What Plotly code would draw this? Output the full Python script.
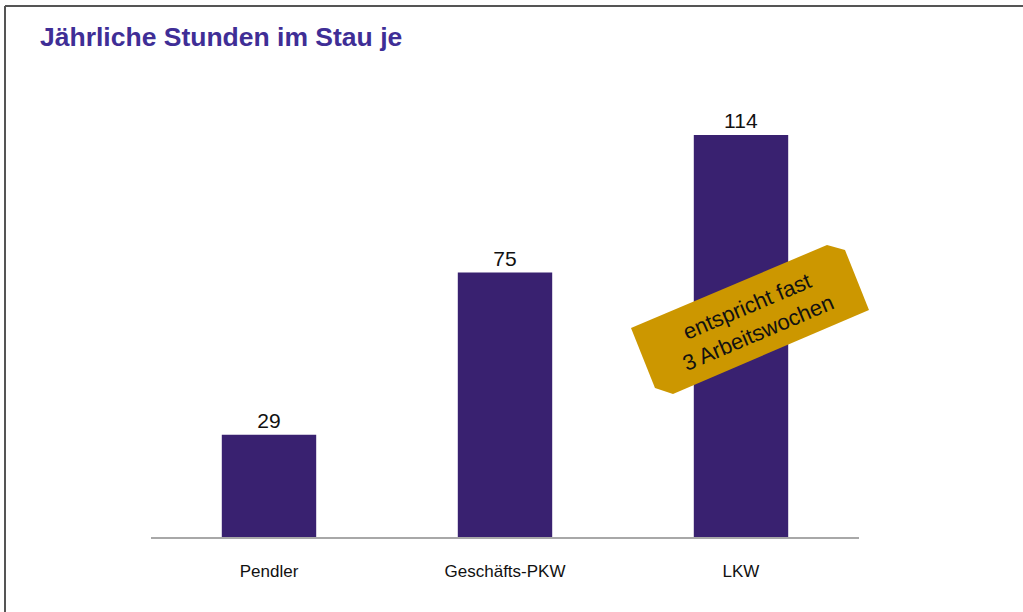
import plotly.graph_objects as go

categories = ["Pendler", "Geschäfts-PKW", "LKW"]
hours = [29, 75, 114]
title_text = "Jährliche Stunden im Stau je"
tag_text = "entspricht fast<br>3 Arbeitswochen"

W, H = 1023, 612
L, R, T, B = 151, 164, 100, 75
PW, PH = W - L - R, H - T - B

def px(x):
    return (x - L) / PW

def py(y):
    return (H - B - y) / PH

fig = go.Figure(go.Bar(
    x=categories, y=hours, width=0.4,
    marker=dict(color="#392170", line=dict(width=0)),
    text=[str(v) for v in hours], textposition="outside",
    textfont=dict(family="Liberation Sans, Arial, sans-serif", size=21, color="#111111"),
    cliponaxis=False,
))

tag = [(631, 328), (827, 245), (845, 250), (869, 310), (673, 394), (655, 388)]
path = "M " + " L ".join(f"{px(a):.5f},{py(b):.5f}" for a, b in tag) + " Z"

shapes = [
    dict(type="path", path=path, xref="paper", yref="paper",
         fillcolor="#CC9700", line=dict(width=0), layer="above"),
    dict(type="line", xref="paper", yref="paper", x0=px(5), x1=px(1023), y0=py(6), y1=py(6),
         line=dict(color="#555555", width=2)),
    dict(type="line", xref="paper", yref="paper", x0=px(5), x1=px(5), y0=py(6), y1=py(612),
         line=dict(color="#555555", width=2)),
]

fig.update_layout(
    width=W, height=H,
    margin=dict(l=L, r=R, t=T, b=B),
    paper_bgcolor="white", plot_bgcolor="white",
    showlegend=False,
    title=dict(text=f"<b>{title_text}</b>", x=40 / W, xanchor="left", xref="container",
               y=1 - 37 / H, yanchor="middle", yref="container",
               font=dict(family="Liberation Sans, Arial, sans-serif", size=26.5, color="#3F2E96")),
    xaxis=dict(showline=True, linecolor="#A8A8A8", linewidth=1.5, ticks="", showgrid=False,
               range=[-0.5, 2.5], ticklabelstandoff=18,
               tickfont=dict(family="Liberation Sans, Arial, sans-serif", size=17, color="#111111")),
    yaxis=dict(visible=False, range=[0, PH / (402 / 114)], showgrid=False, zeroline=False),
    shapes=shapes,
    annotations=[dict(text=tag_text, x=px(752), y=py(320), xref="paper", yref="paper",
                      xanchor="center", yanchor="middle",
                      showarrow=False, textangle=-23, align="center",
                      font=dict(family="Liberation Sans, Arial, sans-serif", size=22, color="#111111"))],
)

fig.write_html("out.html", config={"displayModeBar": False},
               post_script="document.body.style.margin='0';document.body.style.padding='0';")
